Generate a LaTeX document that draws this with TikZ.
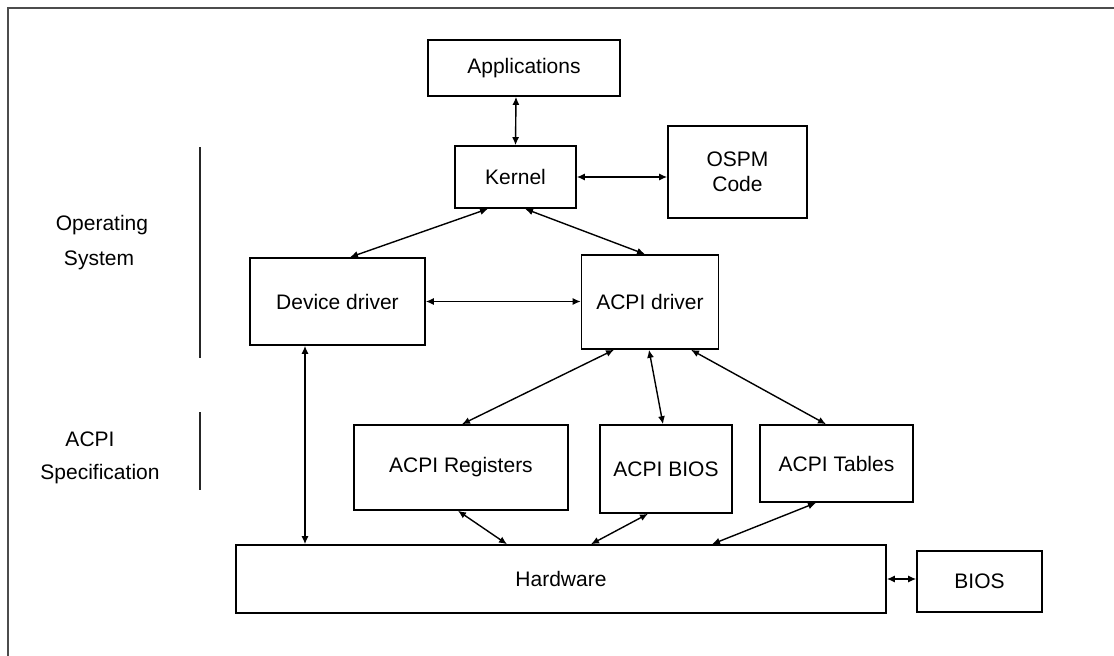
\documentclass[tikz,border=0pt]{standalone}
\usepackage{fontspec}
\setmainfont{Liberation Sans}
\usetikzlibrary{arrows.meta}
\begin{document}
\begin{tikzpicture}[x=1pt,y=-1pt,
  box/.style={draw=black,line width=1.6pt,fill=white,inner sep=0pt,align=center,
    font=\fontsize{21}{25}\selectfont},
  lbl/.style={inner sep=0pt,font=\fontsize{21}{25}\selectfont},
  link/.style={line width=1.4pt,{Latex[length=8pt,width=7pt]}-{Latex[length=8pt,width=7pt]}},
  frame/.style={draw=black!70,line width=2pt},
  sep/.style={draw=black!85,line width=2pt}]
\useasboundingbox[fill=white] (0,0) rectangle (1114,656);
% frame
\coordinate (ftr) at (1114,8);
\coordinate (ftl) at (8,8);
\coordinate (fbl) at (8,656);
\draw[frame] (ftr) -- (ftl) -- (fbl);
% side labels and separators
\node[lbl] (os1) at (102,225) {Operating};
\node[lbl] (os2) at (99,260) {System};
\node[lbl] (as1) at (90,439) {ACPI};
\node[lbl] (as2) at (100,474) {Specification};
\coordinate (s1a) at (200,147);
\coordinate (s1b) at (200,358);
\coordinate (s2a) at (200,412);
\coordinate (s2b) at (200,490);
\draw[sep] (s1a) -- (s1b);
\draw[sep] (s2a) -- (s2b);
% boxes
\node[box,minimum width=192pt,minimum height=56pt] (app) at (524,68) {Applications};
\node[box,minimum width=121pt,minimum height=62pt] (kern) at (515.5,177) {Kernel};
\node[box,minimum width=139pt,minimum height=92pt] (ospm) at (737.5,172) {OSPM\\Code};
\node[box,minimum width=175pt,minimum height=87pt] (dev) at (337.5,301.5) {Device driver};
\node[box,minimum width=137pt,minimum height=94pt] (acpi) at (650,302) {ACPI driver};
\node[box,minimum width=214pt,minimum height=85pt] (reg) at (461,467.5) {ACPI Registers};
\node[box,minimum width=132pt,minimum height=88pt] (abios) at (666,469) {ACPI BIOS};
\node[box,minimum width=153pt,minimum height=77pt] (tab) at (836.5,463.5) {ACPI Tables};
\node[box,minimum width=650pt,minimum height=68pt] (hw) at (561,579) {Hardware};
\node[box,minimum width=125pt,minimum height=61pt] (bios) at (979.5,581.5) {BIOS};
% connectors
\draw[link] ([xshift=-8pt]app.south) -- (kern.north);
\draw[link] (kern.east) -- (kern.east -| ospm.west);
\draw[link] ([xshift=-27.5pt]kern.south) -- ([xshift=12.5pt]dev.north);
\draw[link] ([xshift=9.5pt]kern.south) -- ([xshift=-5pt]acpi.north);
\draw[link] (dev.east) -- (dev.east -| acpi.west);
\draw[link] ([xshift=-32.5pt]dev.south) -- ([xshift=-256pt]hw.north);
\draw[link] ([xshift=-36pt]acpi.south) -- ([xshift=1pt]reg.north);
\draw[link] ([xshift=-1pt]acpi.south) -- ([xshift=-3pt]abios.north);
\draw[link] ([xshift=41pt]acpi.south) -- ([xshift=-10.5pt]tab.north);
\draw[link] ([xshift=-3pt]reg.south) -- ([xshift=-54pt]hw.north);
\draw[link] ([xshift=-18pt]abios.south) -- ([xshift=30pt]hw.north);
\draw[link] ([xshift=-20.5pt]tab.south) -- ([xshift=151pt]hw.north);
\draw[link] (hw.east) -- (hw.east -| bios.west);
\end{tikzpicture}
\end{document}
